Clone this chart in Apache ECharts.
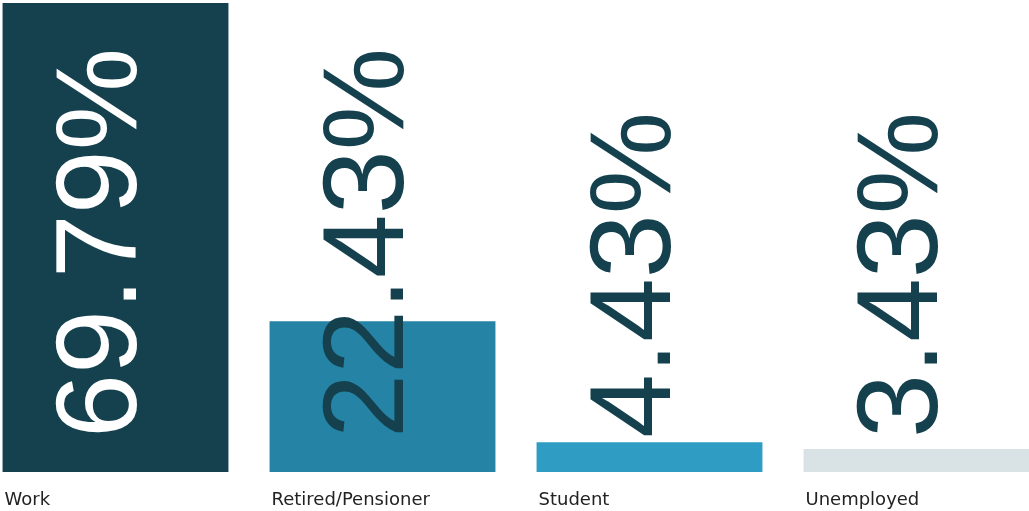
<!DOCTYPE html>
<html>
<head>
<meta charset="utf-8">
<script src="https://cdn.jsdelivr.net/npm/echarts@6/dist/echarts.min.js"></script>
<style>
  html, body { margin: 0; padding: 0; background: #fff; }
  #chart { width: 1029px; height: 511px; }
</style>
</head>
<body>
<div id="chart"></div>
<script>
// categories and shares (%)
const categories = ["Work", "Retired/Pensioner", "Student", "Unemployed"];
const shares = [69.79, 22.43, 4.43, 3.43];
const barColors = ["#15414f", "#2583a5", "#2e9cc3", "#d9e2e5"];
const labelColors = ["#ffffff", "#15414f", "#15414f", "#15414f"];

const chart = echarts.init(document.getElementById("chart"));

const option = {
  animation: false,
  grid: {
    left: -18,
    right: -21,
    top: 3,
    bottom: 39,
    outerBoundsMode: "none",
  },
  xAxis: {
    type: "category",
    data: categories,
    axisLine: { show: false },
    axisTick: { show: false },
    axisLabel: {
      margin: 19,
      formatter: (v) => `{a|${v}}`,
      rich: {
        a: {
          width: 222,
          align: "left",
          fontFamily: "DejaVu Sans",
          fontSize: 18,
          color: "#222222",
        },
      },
    },
  },
  yAxis: {
    type: "value",
    min: 0,
    max: "dataMax",
    show: false,
    splitLine: { show: false },
  },
  series: [
    {
      type: "bar",
      barCategoryGap: "15.4%",
      data: shares.map((v, i) => ({
        value: v,
        itemStyle: { color: barColors[i] },
        label: { color: labelColors[i] },
      })),
      label: {
        show: true,
        position: "insideBottom",
        distance: 34,
        rotate: 90,
        align: "left",
        verticalAlign: "middle",
        // offset is in the rotated frame: [along text, across text]
        offset: [0, -11],
        fontFamily: "Liberation Sans",
        fontSize: 115,
        formatter: (p) => p.value.toFixed(2) + "%",
      },
    },
  ],
};

chart.setOption(option);
</script>
</body>
</html>
